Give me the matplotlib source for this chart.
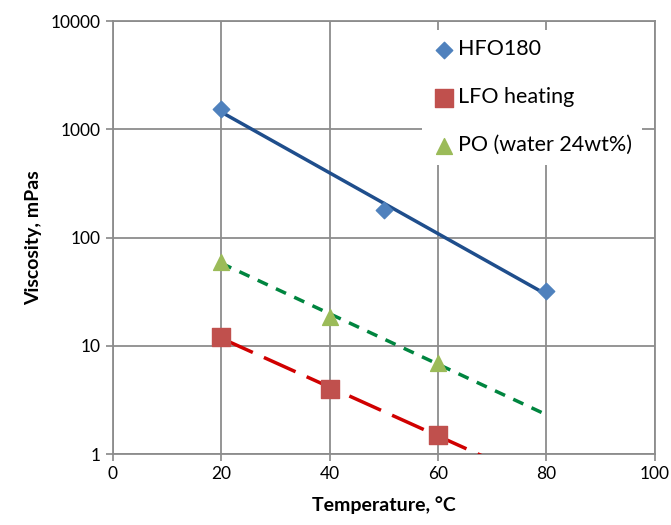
import matplotlib.pyplot as plt
import numpy as np

plt.rcParams['font.family'] = ['Lato', 'DejaVu Sans']

# measured viscosities, mPas
temp_hfo = [20, 50, 80]
visc_hfo = [1550, 180, 32]
temp_lfo = [20, 40, 60]
visc_lfo = [12, 4, 1.5]
temp_po = [20, 40, 60]
visc_po = [60, 18.5, 7]

x_ticks = [0, 20, 40, 60, 80, 100]
y_ticks = [1, 10, 100, 1000, 10000]


def exp_trend(x, y, x_end):
    # exponential trendline (like Excel), fit on log values
    k, b = np.polyfit(x, np.log(y), 1)
    xs = np.linspace(x[0], x_end, 100)
    return xs, np.exp(k * xs + b)


fig = plt.figure(figsize=(6.71, 5.25), dpi=100)
ax = fig.add_axes([0.168, 0.135, 0.808, 0.825])

# trendlines first, markers drawn on top
xs, ys = exp_trend(temp_hfo, visc_hfo, 80)
ax.plot(xs, ys, color='#1F4E8C', lw=2.5, zorder=3)
xs, ys = exp_trend(temp_lfo, visc_lfo, 80)
ax.plot(xs, ys, color='#D00000', lw=2.5, dashes=(10, 3.5), zorder=3)
xs, ys = exp_trend(temp_po, visc_po, 80)
ax.plot(xs, ys, color='#00853F', lw=2.5, dashes=(3.2, 2.6), zorder=3)

ax.scatter(temp_hfo, visc_hfo, marker='D', s=70, color='#4F81BD', label='HFO180', zorder=4)
ax.scatter(temp_lfo, visc_lfo, marker='s', s=150, color='#C0504D', label='LFO heating', zorder=4)
ax.scatter(temp_po, visc_po, marker='^', s=130, color='#9BBB59', label='PO (water 24wt%)', zorder=4)

ax.set_yscale('log')
ax.set_xlim(0, 100)
ax.set_ylim(1, 10000)
ax.set_xticks(x_ticks)
ax.set_yticks(y_ticks)
ax.set_yticklabels([str(v) for v in y_ticks])
ax.minorticks_off()
ax.tick_params(labelsize=12.5, color='#888888', length=5, width=1.2)
ax.grid(True, color='#8c8c8c', lw=1.3)
ax.set_axisbelow(True)
for s in ax.spines.values():
    s.set_color('#8c8c8c')
    s.set_linewidth(1.3)

ax.set_xlabel('Temperature, °C', fontsize=14, fontweight='bold', labelpad=10)
ax.set_ylabel('Viscosity, mPas', fontsize=14, fontweight='bold', labelpad=6)

leg = ax.legend(loc='upper left', bbox_to_anchor=(0.57, 0.98), fontsize=15.5,
                frameon=True, fancybox=False, edgecolor='none', framealpha=1,
                labelspacing=1.3, handletextpad=0.05, handlelength=1.2,
                borderpad=0.45, borderaxespad=0)
leg.set_zorder(5)

fig.savefig('out.png', dpi=100)
